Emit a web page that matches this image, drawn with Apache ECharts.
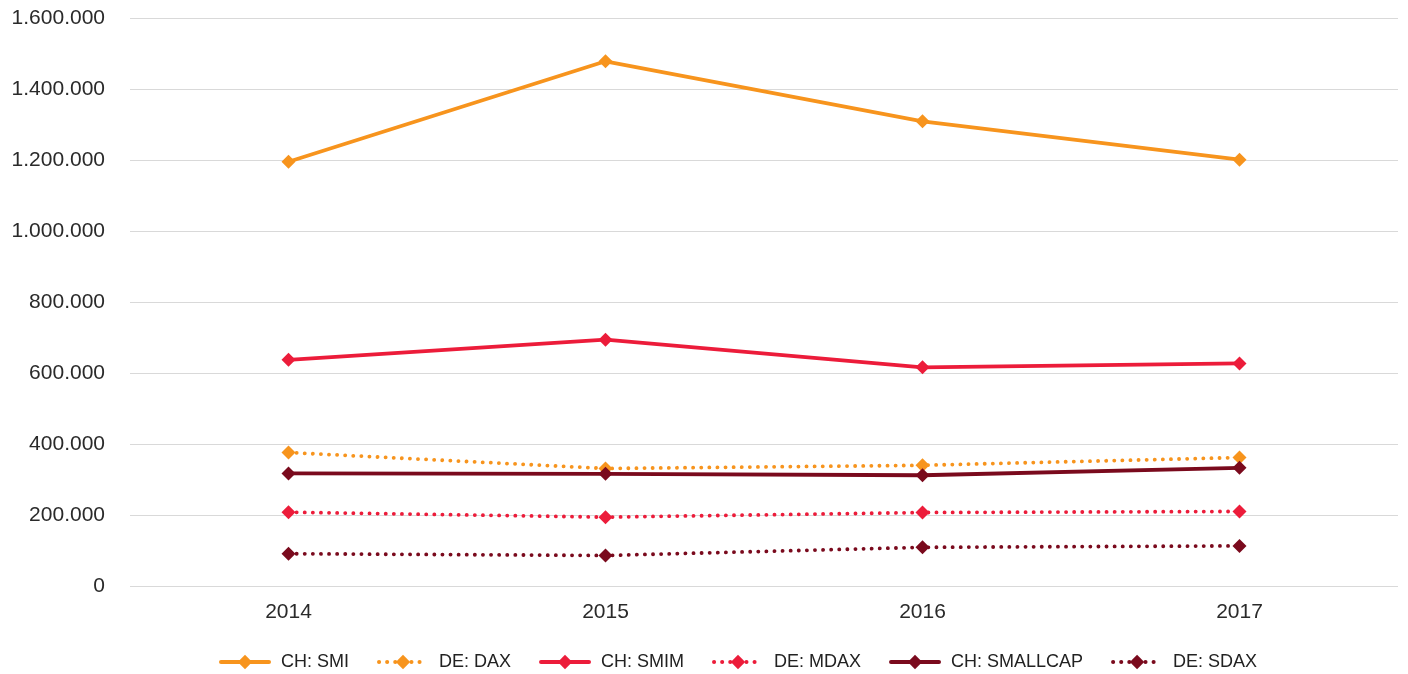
<!DOCTYPE html>
<html><head><meta charset="utf-8">
<script src="https://cdn.jsdelivr.net/npm/echarts@6/dist/echarts.min.js"></script>
<style>html,body{margin:0;padding:0;background:#fff}#c{width:1408px;height:674px}</style>
</head><body><div id="c"></div>
<script>
const categories = ['2014','2015','2016','2017'];
const smi = [1195000, 1478000, 1309000, 1201000];
const dax = [376000, 331000, 340000, 362000];
const smim = [637000, 694000, 616000, 627000];
const mdax = [208000, 194000, 207000, 210000];
const smallcap = [317000, 316000, 312000, 333000];
const sdax = [91000, 86000, 109000, 113000];
const names = ['CH: SMI','DE: DAX','CH: SMIM','DE: MDAX','CH: SMALLCAP','DE: SDAX'];

const FONT = '"Liberation Sans", Arial, sans-serif';
const orange = '#F7941D', red = '#EC1C3A', dark = '#7A0A1D';
function s(name, data, color, dotted){
  return {
    name, type:'line', data, symbol:'diamond', symbolSize:14,
    itemStyle:{color},
    lineStyle:{color, width:3.8, type: dotted ? [0.1,8] : 'solid', cap:'round'},
    emphasis:{disabled:true}
  };
}
const chart = echarts.init(document.getElementById('c'), null, {renderer:'canvas'});
chart.setOption({
  animation:false,
  grid:{left:130, right:10, top:18, bottom:88},
  legend:{
    top:648, left:214, itemWidth:48, itemHeight:18, itemGap:28,
    lineStyle:{width:4},
    textStyle:{fontFamily:FONT, fontSize:18, color:'#222', padding:[0,0,0,7]},
    data:names
  },
  xAxis:{
    type:'category', data:categories, boundaryGap:true,
    axisLine:{show:false}, axisTick:{show:false},
    axisLabel:{fontFamily:FONT, fontSize:21, color:'#2a2a2a', margin:16}
  },
  yAxis:{
    type:'value', min:0, max:1600000, interval:200000,
    axisLine:{show:false}, axisTick:{show:false},
    splitLine:{lineStyle:{color:'#d9d9d9', width:1}},
    axisLabel:{fontFamily:FONT, fontSize:21, color:'#2a2a2a', margin:25,
      formatter:v=>String(v).replace(/\B(?=(\d{3})+(?!\d))/g,'.')}
  },
  series:[
    s(names[0], smi, orange, false),
    s(names[1], dax, orange, true),
    s(names[2], smim, red, false),
    s(names[3], mdax, red, true),
    s(names[4], smallcap, dark, false),
    s(names[5], sdax, dark, true)
  ]
});
</script></body></html>
